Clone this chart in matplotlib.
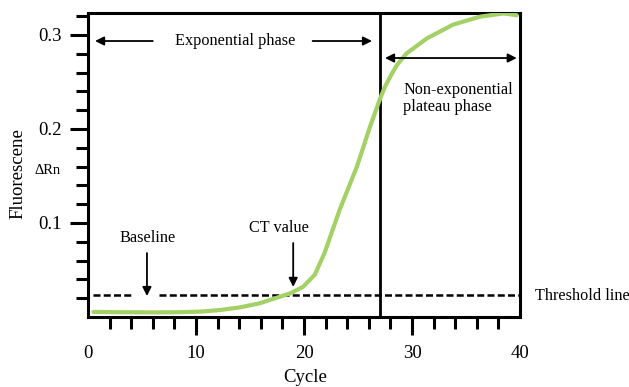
import numpy as np
import matplotlib.pyplot as plt
from matplotlib.ticker import FixedLocator

plt.rcParams['font.family'] = ['Liberation Serif', 'DejaVu Serif']

# amplification curve
cycles = [0.5, 2, 4, 6, 8, 10.4, 12.2, 14.1, 15.9, 17.5, 18.7, 19.9, 21.0, 21.9, 23.3,
          24.9, 26.1, 27.0, 27.5, 28.0, 28.6, 29.5, 31.4, 33.8, 36.3, 38.5, 39.7]
fluor = [0.0054, 0.0052, 0.005, 0.0049, 0.005, 0.0057, 0.0074, 0.0103, 0.0146, 0.0206,
         0.025, 0.032, 0.045, 0.068, 0.114, 0.160, 0.202, 0.231, 0.245, 0.256, 0.268,
         0.2805, 0.2965, 0.311, 0.3195, 0.323, 0.321]

threshold = 0.0235
ct_cycle = 19.0
plateau_start = 27.0
x_ticks = [0, 10, 20, 30, 40]
y_ticks = [0.1, 0.2, 0.3]

fig = plt.figure(figsize=(6.29, 3.87), dpi=100)
ax = fig.add_axes([88/629, 70/387, 432/629, 304/387])

ax.plot(cycles, fluor, color='#a3d165', lw=3, solid_capstyle='round',
        solid_joinstyle='round', zorder=3)

# threshold line, broken round the baseline arrow
ax.plot([0.45, 4.2], [threshold, threshold], color='black', lw=1.8, dashes=(2.8, 1.3))
ax.plot([6.6, 40], [threshold, threshold], color='black', lw=1.8, dashes=(2.8, 1.3))

ax.axvline(plateau_start, color='black', lw=2)

ax.set_xlim(0, 40)
ax.set_ylim(0, 0.3234)
for s in ax.spines.values():
    s.set_linewidth(2.2)

ax.set_xticks(x_ticks)
ax.set_xticklabels([str(t) for t in x_ticks])
ax.xaxis.set_minor_locator(FixedLocator([t for t in range(2, 40, 2) if t % 10]))
ax.set_yticks(y_ticks)
ax.set_yticklabels(['0.1', '0.2', '0.3'])
ax.yaxis.set_minor_locator(FixedLocator([v / 100 for v in range(2, 33, 2) if v % 10]))
ax.tick_params(which='major', direction='out', length=13, width=2.2, labelsize=13.5, pad=6)
ax.tick_params(which='minor', direction='out', length=8.5, width=2.2)
ax.tick_params(axis='x', which='major', pad=7)
xt = ax.xaxis.get_major_ticks()
xt[0].tick1line.set_visible(False)
xt[-1].tick1line.set_visible(False)

fig.text(18/629, 1 - 174/387, 'Fluorescene', rotation=90, ha='center', va='center', fontsize=13.5)
fig.text(48/629, 1 - 170/387, 'ΔRn', ha='center', va='center', fontsize=10.5)
fig.text(305/629, 1 - 377/387, 'Cycle', ha='center', va='center', fontsize=13.5)

fs = 11.7
arrow = dict(arrowstyle='-|>', color='black', lw=1.3, mutation_scale=13, shrinkA=0, shrinkB=0)
ax.text(13.6, 0.2936, 'Exponential phase', ha='center', va='center', fontsize=fs)
ax.annotate('', xy=(0.65, 0.2936), xytext=(6.0, 0.2936), arrowprops=arrow)
ax.annotate('', xy=(26.3, 0.2936), xytext=(20.8, 0.2936), arrowprops=arrow)
ax.annotate('', xy=(39.7, 0.2755), xytext=(27.5, 0.2755),
            arrowprops=dict(arrow, arrowstyle='<|-|>'))
ax.text(29.2, 0.2324, 'Non-exponential\nplateau phase', ha='left', va='center',
        fontsize=fs, linespacing=1.1)

ax.text(5.55, 0.084, 'Baseline', ha='center', va='center', fontsize=fs)
ax.annotate('', xy=(5.46, 0.0223), xytext=(5.46, 0.068), arrowprops=arrow)
ax.text(17.7, 0.0947, 'CT value', ha='center', va='center', fontsize=fs)
ax.annotate('', xy=(ct_cycle, 0.032), xytext=(ct_cycle, 0.0787), arrowprops=arrow)
ax.text(41.4, 0.0223, 'Threshold line', ha='left', va='center', fontsize=fs, clip_on=False)

fig.savefig('out.png', dpi=100)
